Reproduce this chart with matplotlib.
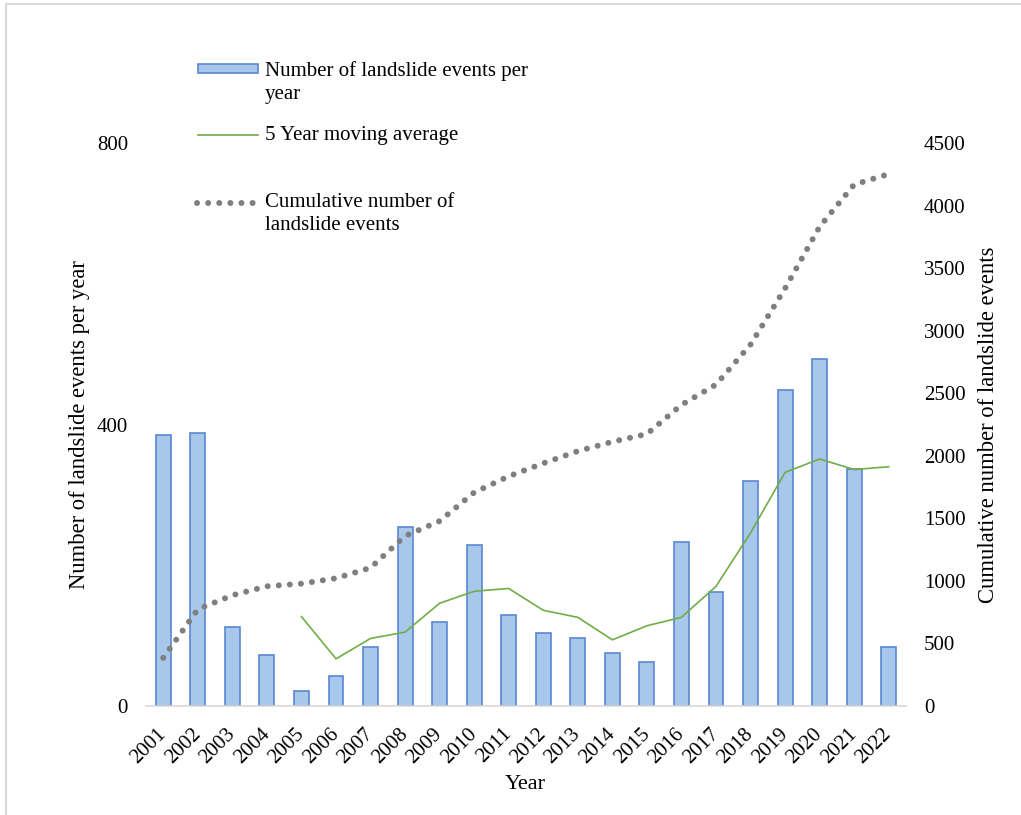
#!/usr/bin/env python3
import matplotlib
matplotlib.use("Agg")
import matplotlib.pyplot as plt
from matplotlib.lines import Line2D
from matplotlib.patches import Rectangle
import numpy as np

plt.rcParams["font.family"] = ["Liberation Serif", "DejaVu Serif"]

years = [str(y) for y in range(2001, 2023)]
events = [385, 388, 112, 72, 21, 43, 84, 254, 119, 229, 129, 104,
          97, 75, 62, 233, 162, 320, 449, 493, 337, 84]
# 5 year moving average, starts at 2005
ma_years = years[4:]
moving_avg = [127, 67, 96, 105, 146, 163, 167, 136, 126, 94, 114, 126,
              170, 246, 332, 351, 336, 340]
cumulative = [385, 773, 885, 957, 978, 1021, 1105, 1359, 1478, 1707, 1836,
              1940, 2037, 2112, 2174, 2407, 2569, 2889, 3338, 3831, 4168, 4252]

W, H = 1021, 815
bar_face = "#A7C8EA"
bar_edge = "#5A87D2"
green = "#70AD47"
grey = "#7F7F7F"

fig = plt.figure(figsize=(W / 100, H / 100), dpi=100)
ax = fig.add_axes([146 / W, 1 - 706 / H, 760 / W, 563 / H])
ax2 = ax.twinx()

x = np.arange(len(years))
ax.bar(x, events, width=0.43, color=bar_face, edgecolor=bar_edge, linewidth=1.2, zorder=2)
xm = np.arange(4, len(years))
ax.plot(xm, moving_avg, color=green, linewidth=1.2, zorder=3)
ax2.plot(x, cumulative, color=grey, linewidth=4.3, linestyle=(0, (0.01, 1.85)),
         dash_capstyle="round", zorder=4)

ax.set_xlim(-0.5, len(years) - 0.5)
ax.set_ylim(0, 800)
ax.set_yticks([0, 400, 800])
ax2.set_ylim(0, 4500)
ax2.set_yticks(np.arange(0, 4501, 500))

ax.set_xticks(x)
ax.set_xticklabels(years, rotation=45, ha="right", va="center", rotation_mode="anchor")
ax.tick_params(axis="x", length=0, pad=18, labelsize=15)
ax.tick_params(axis="y", length=0, pad=13, labelsize=15)
ax2.tick_params(axis="y", length=0, pad=13, labelsize=15)

for a in (ax, ax2):
    for s in ("top", "left", "right"):
        a.spines[s].set_visible(False)
    a.spines["bottom"].set_color("#D9D9D9")
    a.spines["bottom"].set_linewidth(1.2)
ax2.spines["bottom"].set_visible(False)

ax.set_ylabel("Number of landslide events per year", fontsize=16.3, va="center")
ax.yaxis.set_label_coords(-0.087, 0.5)
ax2.set_ylabel("Cumulative number of landslide events", fontsize=16.3, va="center")
ax2.yaxis.set_label_coords(1.108, 0.5)
ax.set_xlabel("Year", fontsize=16, va="center")
ax.xaxis.set_label_coords(0.499, -0.139)

# legend drawn by hand so the keys line up with the first line of each label
def fx(px):
    return px / W

def fy(py):
    return 1 - py / H

fig.add_artist(Rectangle((fx(198), fy(73)), fx(258) - fx(198), fy(64) - fy(73),
                         transform=fig.transFigure, facecolor=bar_face,
                         edgecolor=bar_edge, linewidth=1.2))
fig.add_artist(Line2D([fx(198), fx(258)], [fy(135), fy(135)], transform=fig.transFigure,
                      color=green, linewidth=1.2))
fig.add_artist(Line2D([fx(197), fx(257)], [fy(203), fy(203)], transform=fig.transFigure,
                      color=grey, linewidth=4.3, linestyle=(0, (0.01, 1.85)),
                      dash_capstyle="round"))
leg_labels = ["Number of landslide events per\nyear", "5 Year moving average",
              "Cumulative number of\nlandslide events"]
for lab, py in zip(leg_labels, [61, 126, 193]):
    fig.text(fx(265), fy(py), lab, fontsize=15, ha="left", va="top", linespacing=1.32)

# light frame at the top-left edge of the image
fig.add_artist(Rectangle((fx(6), -0.1), 1.2, fy(4) + 0.1, transform=fig.transFigure,
                         fill=False, edgecolor="#D9D9D9", linewidth=1.5))

fig.savefig("out.png", dpi=100)
